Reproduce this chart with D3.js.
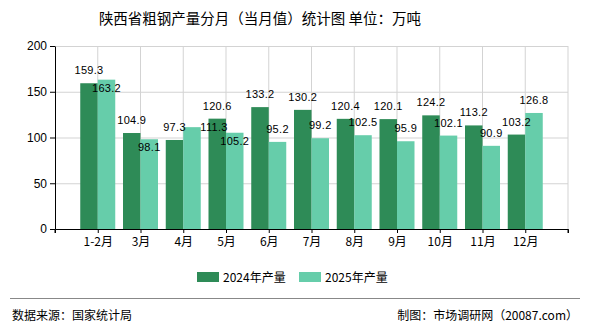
<!DOCTYPE html>
<html>
<head>
<meta charset="utf-8">
<script src="https://cdn.jsdelivr.net/npm/d3@7"></script>
<style>
  body { margin: 0; background: #fff; }
  text { font-family: "Liberation Sans", "Noto Sans CJK SC", sans-serif; }
</style>
</head>
<body>
<div id="chart"></div>
<script>
// chart data
var months = ["1-2月", "3月", "4月", "5月", "6月", "7月", "8月", "9月", "10月", "11月", "12月"];
var output2024 = [159.3, 104.9, 97.3, 120.6, 133.2, 130.2, 120.4, 120.1, 124.2, 113.2, 103.2];
var output2025 = [163.2, 98.1, 111.3, 105.2, 95.2, 99.2, 102.5, 95.9, 102.1, 90.9, 126.8];
var seriesNames = ["2024年产量", "2025年产量"];
var yTicks = [0, 50, 100, 150, 200];

var width = 590, height = 330;
var plotLeft = 55, plotRight = 568, plotTop = 46, plotBottom = 229;
var colors = ["#2e8b57", "#66cdaa"];
var barW = 17.5;

var svg = d3.select("#chart")
    .append("svg")
    .attr("width", width)
    .attr("height", height);

// scales
var xScale = d3.scalePoint()
    .domain(months)
    .range([plotLeft, plotRight])
    .padding(1);

var yScale = d3.scaleLinear()
    .domain([0, 200])
    .range([plotBottom, plotTop]);

// title
svg.append("text")
    .attr("x", 260)
    .attr("y", 24)
    .attr("text-anchor", "middle")
    .style("font-size", "14.5px")
    .style("font-family", "'Noto Sans CJK SC', sans-serif")
    .text("陕西省粗钢产量分月（当月值）统计图 单位：万吨");

// grid lines
svg.append("g")
    .selectAll("line")
    .data(yTicks.slice(1))
    .enter()
    .append("line")
    .attr("x1", plotLeft).attr("x2", plotRight)
    .attr("y1", function (d) { return yScale(d) + 0.5; })
    .attr("y2", function (d) { return yScale(d) + 0.5; })
    .attr("stroke", "#d3d3d3");

svg.append("g")
    .selectAll("line")
    .data(months.map(function (m) { return xScale(m); }).concat([plotRight]))
    .enter()
    .append("line")
    .attr("x1", function (d) { return d; }).attr("x2", function (d) { return d; })
    .attr("y1", plotTop).attr("y2", plotBottom)
    .attr("stroke", "#d3d3d3");

// bars
var rows = months.map(function (m, i) {
    return { month: m, values: [output2024[i], output2025[i]] };
});

[0, 1].forEach(function (s) {
    svg.append("g")
        .selectAll("rect")
        .data(rows)
        .enter()
        .append("rect")
        .attr("x", function (d) { return xScale(d.month) - barW + s * barW; })
        .attr("y", function (d) { return yScale(d.values[s]); })
        .attr("width", barW)
        .attr("height", function (d) { return plotBottom - yScale(d.values[s]); })
        .attr("fill", colors[s]);
});

// axes
var xAxis = svg.append("g")
    .attr("transform", "translate(0," + plotBottom + ")")
    .call(d3.axisBottom(xScale).tickSize(4).tickSizeOuter(4));
xAxis.select(".domain").attr("stroke", "#000");
xAxis.selectAll(".tick line").attr("stroke", "#000");
xAxis.selectAll(".tick text")
    .attr("y", 8)
    .style("font-size", "12px")
    .style("font-family", "'Noto Sans CJK SC', sans-serif")
    .attr("fill", "#000");
// ticks at the two ends of the axis
xAxis.selectAll(".endtick")
    .data([plotLeft, plotRight])
    .enter()
    .append("line")
    .attr("x1", function (d) { return d; }).attr("x2", function (d) { return d; })
    .attr("y1", 0).attr("y2", 4)
    .attr("stroke", "#000");

var yAxis = svg.append("g")
    .attr("transform", "translate(" + plotLeft + ",0)")
    .call(d3.axisLeft(yScale).tickValues(yTicks).tickSize(5).tickSizeOuter(0));
yAxis.select(".domain").attr("stroke", "#000");
yAxis.selectAll(".tick line").attr("stroke", "#000");
yAxis.selectAll(".tick text")
    .attr("x", -8)
    .style("font-size", "12px")
    .attr("fill", "#000");

// value labels, 2024 first, then 2025 moved if it collides
var placed = [];
function overlaps(b) {
    var m = 2;
    return placed.some(function (p) {
        return b.x < p.x + p.w + m && b.x + b.w + m > p.x &&
               b.y < p.y + p.h + m && b.y + b.h + m > p.y;
    });
}

var labelG = svg.append("g");
[0, 1].forEach(function (s) {
    rows.forEach(function (d) {
        var cx = xScale(d.month) - barW / 2 + s * barW;
        var ty = yScale(d.values[s]);
        var t = labelG.append("text")
            .attr("text-anchor", "middle")
            .style("font-size", "11px")
            .style("letter-spacing", "0.3px")
            .attr("fill", "#000")
            .text(d.values[s].toFixed(1));
        var w = t.node().getComputedTextLength();
        var tries = s === 0 ? [[0, -9]] : [[0, -9], [0, 12], [22, 4]];
        var box;
        for (var k = 0; k < tries.length; k++) {
            var x = cx + tries[k][0], y = ty + tries[k][1];
            box = { x: x - w / 2, y: y - 8, w: w, h: 8 };
            t.attr("x", x).attr("y", y);
            if (!overlaps(box)) break;
        }
        placed.push(box);
    });
});

// legend
var legend = svg.append("g");
var legendX = [197, 299];
seriesNames.forEach(function (name, i) {
    legend.append("rect")
        .attr("x", legendX[i]).attr("y", 272)
        .attr("width", 22).attr("height", 10)
        .attr("fill", colors[i]);
    legend.append("text")
        .attr("x", legendX[i] + 26).attr("y", 282)
        .style("font-size", "12px")
        .style("font-family", "'Noto Sans CJK SC', sans-serif")
        .text(name);
});

// footer
svg.append("line")
    .attr("x1", 10).attr("x2", 580)
    .attr("y1", 298.5).attr("y2", 298.5)
    .attr("stroke", "#888");

svg.append("text")
    .attr("x", 12).attr("y", 320)
    .style("font-size", "12px")
    .style("font-family", "'Noto Sans CJK SC', sans-serif")
    .text("数据来源：国家统计局");

svg.append("text")
    .attr("x", 578).attr("y", 320)
    .attr("text-anchor", "end")
    .style("font-size", "12px")
    .style("font-family", "'Noto Sans CJK SC', sans-serif")
    .text("制图：市场调研网（20087.com）");
</script>
</body>
</html>
